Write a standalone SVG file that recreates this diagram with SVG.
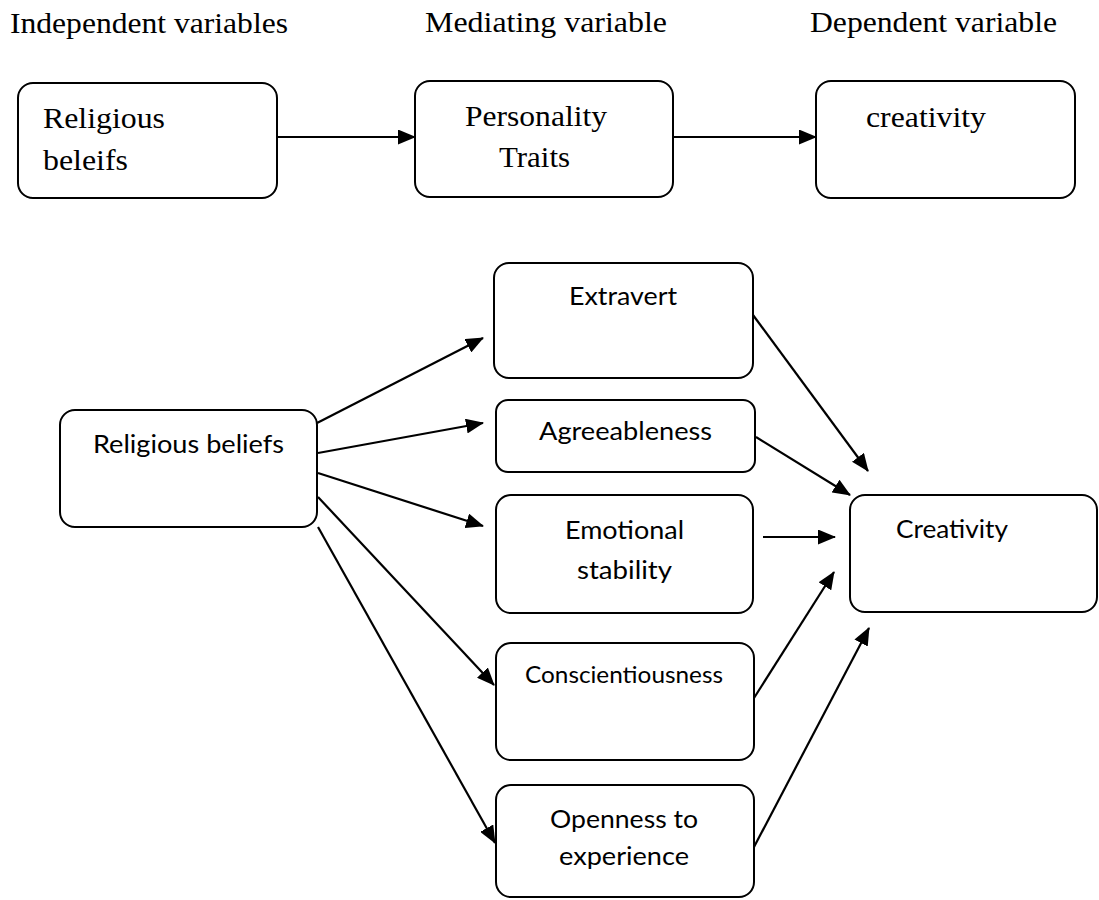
<svg xmlns="http://www.w3.org/2000/svg" width="1099" height="900" viewBox="0 0 1099 900">
<style>
.box{fill:#fff;stroke:#000;stroke-width:2}
.ser{font-family:"Liberation Serif","Times New Roman",serif;font-size:29px;fill:#000}
.san{font-family:Lato,"Liberation Sans",sans-serif;font-size:24.5px;fill:#000}
.con line{stroke:#000;stroke-width:2.2;marker-end:url(#ah)}
</style>
<defs>
<marker id="ah" markerUnits="userSpaceOnUse" markerWidth="18" markerHeight="15" refX="17" refY="7.5" orient="auto">
<path d="M0,0 L18,7.5 L0,15 z" fill="#000"/>
</marker>
</defs>
<rect width="1099" height="900" fill="#fff"/>
<g id="headers">
<text class="ser" x="10" y="33" textLength="278" lengthAdjust="spacingAndGlyphs">Independent variables</text>
<text class="ser" x="425" y="32" textLength="242" lengthAdjust="spacingAndGlyphs">Mediating variable</text>
<text class="ser" x="810" y="32" textLength="247" lengthAdjust="spacingAndGlyphs">Dependent variable</text>
</g>
<g id="top-religious">
<rect class="box" x="18" y="83" width="259" height="115" rx="15"/>
<text class="ser" x="43" y="128" textLength="122" lengthAdjust="spacingAndGlyphs">Religious</text>
<text class="ser" x="43" y="170" textLength="85" lengthAdjust="spacingAndGlyphs">beleifs</text>
</g>
<g id="top-personality">
<rect class="box" x="415" y="81" width="258" height="116" rx="15"/>
<text class="ser" x="465" y="126" textLength="142" lengthAdjust="spacingAndGlyphs">Personality</text>
<text class="ser" x="499" y="167" textLength="71" lengthAdjust="spacingAndGlyphs">Traits</text>
</g>
<g id="top-creativity">
<rect class="box" x="816" y="81" width="259" height="117" rx="15"/>
<text class="ser" x="866" y="127" textLength="120" lengthAdjust="spacingAndGlyphs">creativity</text>
</g>
<g id="religious-beliefs">
<rect class="box" x="60" y="410" width="257" height="117" rx="15"/>
<text class="san" x="93" y="453" textLength="191" lengthAdjust="spacingAndGlyphs">Religious beliefs</text>
</g>
<g id="extravert">
<rect class="box" x="494" y="263" width="259" height="115" rx="15"/>
<text class="san" x="569" y="305" textLength="108" lengthAdjust="spacingAndGlyphs">Extravert</text>
</g>
<g id="agreeableness">
<rect class="box" x="496" y="400" width="259" height="72" rx="12"/>
<text class="san" x="539" y="440" textLength="173" lengthAdjust="spacingAndGlyphs">Agreeableness</text>
</g>
<g id="emotional">
<rect class="box" x="496" y="495" width="257" height="118" rx="15"/>
<text class="san" x="565" y="539" textLength="119" lengthAdjust="spacingAndGlyphs">Emotional</text>
<text class="san" x="577" y="579" textLength="95" lengthAdjust="spacingAndGlyphs">stability</text>
</g>
<g id="conscientiousness">
<rect class="box" x="496" y="643" width="258" height="117" rx="15"/>
<text class="san" x="525" y="683" textLength="198" lengthAdjust="spacingAndGlyphs" style="font-size:23px">Conscientiousness</text>
</g>
<g id="openness">
<rect class="box" x="496" y="785" width="258" height="112" rx="15"/>
<text class="san" x="550" y="828" textLength="148" lengthAdjust="spacingAndGlyphs">Openness to</text>
<text class="san" x="559" y="865" textLength="130" lengthAdjust="spacingAndGlyphs">experience</text>
</g>
<g id="creativity">
<rect class="box" x="850" y="495" width="247" height="117" rx="15"/>
<text class="san" x="896" y="538" textLength="112" lengthAdjust="spacingAndGlyphs">Creativity</text>
</g>
<g id="connectors" class="con">
<line x1="277" y1="137" x2="415" y2="137"/>
<line x1="673" y1="137" x2="816" y2="137"/>
<line x1="317" y1="423" x2="483" y2="338"/>
<line x1="318" y1="453" x2="483" y2="423"/>
<line x1="318" y1="473" x2="483" y2="526"/>
<line x1="318" y1="497" x2="494" y2="685"/>
<line x1="318" y1="527" x2="495" y2="843"/>
<line x1="753" y1="315" x2="868" y2="471"/>
<line x1="756" y1="437" x2="850" y2="495"/>
<line x1="763" y1="537" x2="835" y2="537"/>
<line x1="754" y1="698" x2="834" y2="572"/>
<line x1="754" y1="847" x2="869" y2="628"/>
</g>
</svg>
